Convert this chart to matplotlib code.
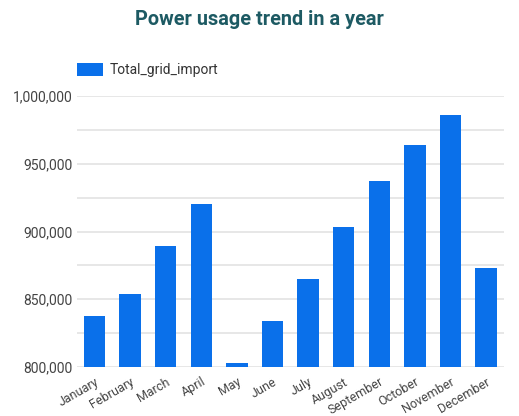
import matplotlib
matplotlib.use("Agg")
import matplotlib.pyplot as plt
from matplotlib.ticker import FuncFormatter, MultipleLocator

months = ["January", "February", "March", "April", "May", "June", "July",
          "August", "September", "October", "November", "December"]
total_grid_import = [838000, 854000, 889000, 920000, 803000, 834000, 865000,
                     903000, 937000, 964000, 986000, 873000]
series_name = "Total_grid_import"
title = "Power usage trend in a year"

plt.rcParams['font.family'] = ['Roboto', 'DejaVu Sans']

fig = plt.figure(figsize=(5.19, 4.16), dpi=100)
ax = fig.add_axes([0.1478, 0.1178, 0.8232, 0.6512])

x = list(range(len(months)))
bars = ax.bar(x, total_grid_import, width=0.6, color='#0a70ea', label=series_name, zorder=3)

ax.set_xlim(-0.5, len(months) - 0.5)
ax.set_ylim(800000, 1000000)
ax.yaxis.set_major_locator(MultipleLocator(50000))
ax.yaxis.set_minor_locator(MultipleLocator(25000))
ax.yaxis.set_major_formatter(FuncFormatter(lambda v, p: f"{int(v):,}"))
ax.grid(axis='y', which='both', color='#e0e0e0', linewidth=1.1, zorder=0)
ax.set_axisbelow(True)
for s in ax.spines.values():
    s.set_visible(False)
ax.tick_params(axis='y', which='both', length=0, pad=3, labelsize=10, labelcolor='#444444')
ax.tick_params(axis='x', length=0, pad=6, labelsize=9, labelcolor='#444444')
ax.set_xticks(x)
ax.set_xticklabels(months, rotation=30, ha='right', rotation_mode='anchor')

fig.text(0.5, 0.952, title, ha='center', va='center', fontsize=14.3, fontweight='bold', color='#1d5a63')

leg = ax.legend(loc='upper left', bbox_to_anchor=(0.148, 0.848), bbox_transform=fig.transFigure,
                frameon=False, fontsize=10, handlelength=1.85, handleheight=1.0,
                handletextpad=0.5, borderpad=0, borderaxespad=0)
for t in leg.get_texts():
    t.set_color('#333333')

fig.savefig("out.png", dpi=100)
